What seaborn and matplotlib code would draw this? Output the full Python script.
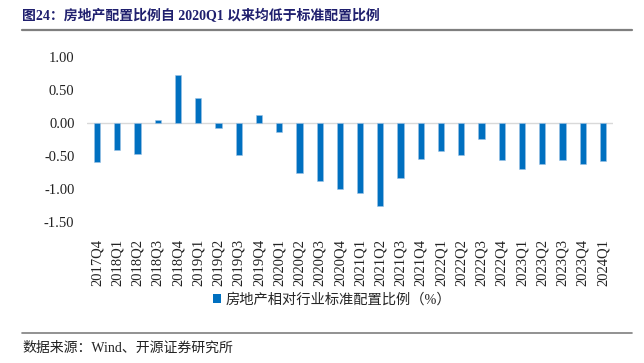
import matplotlib
matplotlib.use("Agg")
import matplotlib.pyplot as plt
import seaborn as sns
import pandas as pd
from matplotlib.lines import Line2D
from matplotlib.patches import Patch

quarters = ["2017Q4", "2018Q1", "2018Q2", "2018Q3", "2018Q4", "2019Q1", "2019Q2",
            "2019Q3", "2019Q4", "2020Q1", "2020Q2", "2020Q3", "2020Q4", "2021Q1",
            "2021Q2", "2021Q3", "2021Q4", "2022Q1", "2022Q2", "2022Q3", "2022Q4",
            "2023Q1", "2023Q2", "2023Q3", "2023Q4", "2024Q1"]
values = [-0.59, -0.41, -0.47, 0.05, 0.72, 0.38, -0.08, -0.48, 0.12, -0.13,
          -0.75, -0.88, -1.00, -1.06, -1.25, -0.83, -0.54, -0.43, -0.48, -0.24,
          -0.56, -0.69, -0.62, -0.56, -0.62, -0.58]
yticks = [1.0, 0.5, 0.0, -0.5, -1.0, -1.5]
series_label = "房地产相对行业标准配置比例（%）"
title = "图24：房地产配置比例自 2020Q1 以来均低于标准配置比例"
source = "数据来源：Wind、开源证券研究所"

sns.set_style("white")
FAM = ["Liberation Serif", "Noto Sans CJK SC"]
plt.rcParams["font.family"] = FAM

df = pd.DataFrame({"quarter": quarters, "value": values})

fig = plt.figure(figsize=(6.44, 3.63), dpi=100)
ax = fig.add_axes([87 / 644, 1 - 222.3 / 363, (613 - 87) / 644, (222.3 - 56.7) / 363])

blue = "#0070C0"
sns.barplot(data=df, x="quarter", y="value", color=blue, width=0.31,
            saturation=1, edgecolor="#9DC3E6", linewidth=0.4, ax=ax)

ax.set_xlim(-0.5, len(quarters) - 0.5)
ax.set_ylim(-1.5, 1.0)
ax.set_yticks(yticks)
ax.set_yticklabels([f"{v:.2f}" for v in yticks], fontsize=10.5, color="#222222")
ax.set_xticks(range(len(quarters)))
ax.set_xticklabels(quarters, rotation=90, fontsize=10.5, color="#222222")
ax.tick_params(axis="x", length=0, pad=12)
ax.tick_params(axis="y", length=0, pad=9)
ax.set_xlabel("")
ax.set_ylabel("")
for s in ax.spines.values():
    s.set_visible(False)
ax.axhline(0, color="#D9D9D9", linewidth=1.0, zorder=0)

handle = Patch(facecolor=blue, edgecolor="none")
fig.legend([handle], [series_label], loc="center", bbox_to_anchor=(332 / 644, 1 - 300 / 363),
           frameon=False, handlelength=0.6, handleheight=0.6, handletextpad=0.3,
           prop={"family": FAM, "size": 10.3})

fig.text(22 / 644, 1 - 16 / 363, title, fontsize=10, fontweight="bold",
         color="#1F1F6E", va="center", ha="left", family=FAM)
fig.add_artist(Line2D([22 / 644, 632 / 644], [1 - 30 / 363, 1 - 30 / 363],
                      color="#7F7F7F", linewidth=1.6))
fig.add_artist(Line2D([22 / 644, 632 / 644], [1 - 333 / 363, 1 - 333 / 363],
                      color="#7F7F7F", linewidth=1.2))
fig.text(22 / 644, 1 - 348 / 363, source, fontsize=10, color="#222222",
         va="center", ha="left", family=FAM)

fig.savefig("out.png", dpi=100)
